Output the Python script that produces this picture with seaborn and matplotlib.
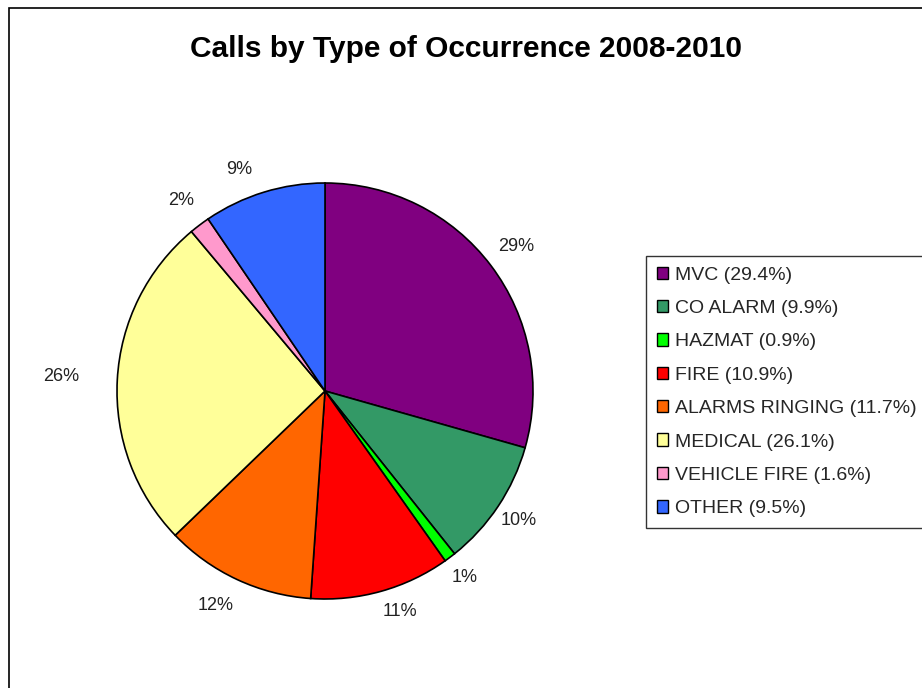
import numpy as np
import matplotlib
matplotlib.use("Agg")
import matplotlib.pyplot as plt
from matplotlib.patches import Rectangle
import seaborn as sns

categories = ["MVC", "CO ALARM", "HAZMAT", "FIRE", "ALARMS RINGING",
              "MEDICAL", "VEHICLE FIRE", "OTHER"]
shares = [29.4, 9.9, 0.9, 10.9, 11.7, 26.1, 1.6, 9.5]
pie_labels = ["29%", "10%", "1%", "11%", "12%", "26%", "2%", "9%"]
colors_hex = ["#800080", "#339966", "#00FF00", "#FF0000", "#FF6600",
              "#FFFF99", "#FF99CC", "#3366FF"]
title = "Calls by Type of Occurrence 2008-2010"

sns.set_theme(style="white")
plt.rcParams["font.family"] = ["Liberation Sans", "DejaVu Sans"]

W, H = 922, 688
fig = plt.figure(figsize=(W / 100, H / 100), dpi=100)
fig.patch.set_facecolor("white")

# pie axes: centre (325, 391) px, radius 208 px
cx, cy, r = 325, 391, 208
ax = fig.add_axes([(cx - r) / W, (H - cy - r) / H, 2 * r / W, 2 * r / H])
palette = sns.color_palette(colors_hex)

wedges, texts = ax.pie(
    shares, labels=pie_labels, colors=palette, startangle=90,
    counterclock=False, labeldistance=1.13,
    wedgeprops=dict(edgecolor="black", linewidth=1.2),
    textprops=dict(fontsize=13, color="#222222"), radius=1.0)
ax.set_xlim(-1, 1)
ax.set_ylim(-1, 1)
ax.set_aspect("auto")
ax.axis("off")

# per-label radial distance and angular nudge (style), Excel-like placement
label_dist = [1.15, 1.12, 1.12, 1.12, 1.16, 1.27, 1.15, 1.14]
label_nudge = [0, 0, 0, 3, -2, 0, 0, 4]
for w, t, d, n in zip(wedges, texts, label_dist, label_nudge):
    ang = np.deg2rad((w.theta1 + w.theta2) / 2 + n)
    t.set_position((d * np.cos(ang), d * np.sin(ang)))
    t.set_ha("center")
    t.set_va("center")

fig.text(466 / W, 1 - 57 / H, title, ha="center", va="baseline",
         fontsize=21.5, fontweight="bold", color="black")

labels = [f"{c} ({s:.1f}%)" for c, s in zip(categories, shares)]
leg = fig.legend(wedges, labels, loc="upper left",
                 bbox_to_anchor=(646 / W, 1 - 256 / H),
                 frameon=True, fancybox=False, fontsize=14,
                 handlelength=0.6, handleheight=0.6, handletextpad=0.35,
                 labelspacing=0.84, borderpad=0.55, borderaxespad=0)
leg.get_frame().set_edgecolor("black")
leg.get_frame().set_linewidth(1.0)
for h in leg.legend_handles:
    h.set_edgecolor("black")
    h.set_linewidth(1.0)

fig.patches.append(Rectangle((9 / W, -0.1), 2.0, (H - 8) / H + 0.1,
                             transform=fig.transFigure, fill=False,
                             edgecolor="black", linewidth=1.2))

fig.savefig("out.png", dpi=100)
